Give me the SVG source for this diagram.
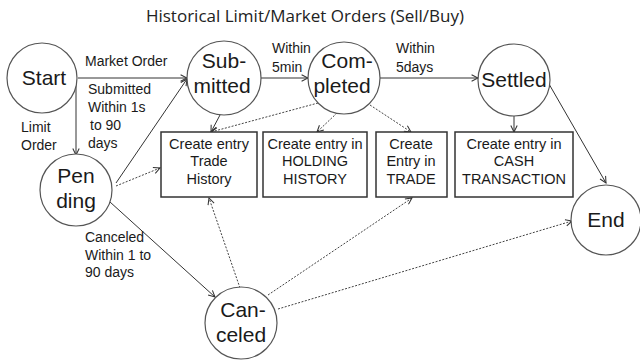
<svg xmlns="http://www.w3.org/2000/svg" width="640" height="360" viewBox="0 0 640 360">
<defs>
<marker id="arr" viewBox="0 0 10 10" refX="9" refY="5" markerWidth="8" markerHeight="8" markerUnits="userSpaceOnUse" orient="auto">
<path d="M1,1 L9,5 L1,9" fill="none" stroke="#333" stroke-width="1.3"/>
</marker>
</defs>
<style>
.node{fill:#fff;stroke:#555;stroke-width:1.2}
.box{fill:#fff;stroke:#333;stroke-width:1.5}
.nt{font-family:"Liberation Sans",Arial,sans-serif;font-size:21px;fill:#1a1a1a;text-anchor:middle}
.bt{font-family:"Liberation Sans",Arial,sans-serif;font-size:14.5px;fill:#1a1a1a;text-anchor:middle}
.lt{font-family:"Liberation Sans",Arial,sans-serif;font-size:14px;fill:#1a1a1a}
.title{font-family:"Open Sans","Liberation Sans",sans-serif;font-size:17px;fill:#222;text-anchor:middle}
.s{fill:none;stroke:#333;stroke-width:1;marker-end:url(#arr)}
.d{fill:none;stroke:#444;stroke-width:1;stroke-dasharray:2 1.5;marker-end:url(#arr)}
</style>
<rect width="640" height="360" fill="#fff"/>
<text class="title" x="305" y="22">Historical Limit/Market Orders (Sell/Buy)</text>

<g id="connectors">
<line class="s" x1="78" y1="78" x2="187" y2="78"/>
<line class="s" x1="76" y1="80" x2="76" y2="155"/>
<line class="s" x1="116" y1="183" x2="187" y2="79"/>
<line class="d" x1="116" y1="186" x2="160" y2="168"/>
<line class="s" x1="110" y1="202" x2="215" y2="297"/>
<line class="s" x1="261" y1="78" x2="308" y2="78"/>
<line class="s" x1="220" y1="115" x2="211" y2="132"/>
<line class="d" x1="318" y1="103" x2="211" y2="132"/>
<line class="d" x1="337" y1="113" x2="317" y2="132"/>
<line class="d" x1="370" y1="105" x2="411" y2="132"/>
<line class="s" x1="380" y1="78" x2="478" y2="78"/>
<line class="s" x1="514" y1="116" x2="514" y2="132"/>
<line class="s" x1="549" y1="84" x2="606" y2="183"/>
<line class="d" x1="240" y1="288" x2="209" y2="198"/>
<line class="d" x1="268" y1="295" x2="412" y2="198"/>
<line class="d" x1="278" y1="309" x2="572" y2="221"/>
</g>

<g id="start"><circle class="node" cx="42" cy="78" r="35"/><text class="nt" x="44" y="85" font-size="22">Start</text></g>
<g id="submitted"><circle class="node" cx="224" cy="78" r="37"/><text class="nt" x="224" y="68">Sub-</text><text class="nt" x="222" y="93">mitted</text></g>
<g id="completed"><circle class="node" cx="344" cy="78" r="36"/><text class="nt" x="347" y="68">Com-</text><text class="nt" x="342" y="93">pleted</text></g>
<g id="settled"><circle class="node" cx="514" cy="80" r="36"/><text class="nt" x="514" y="87">Settled</text></g>
<g id="pending"><circle class="node" cx="76" cy="190" r="36"/><text class="nt" x="76" y="183">Pen</text><text class="nt" x="76" y="208">ding</text></g>
<g id="canceled"><circle class="node" cx="241" cy="323" r="36"/><text class="nt" x="243" y="317">Can-</text><text class="nt" x="241" y="342">celed</text></g>
<g id="end"><circle class="node" cx="606" cy="220" r="35"/><text class="nt" x="606" y="227">End</text></g>

<g id="box1"><rect class="box" x="161" y="132" width="96" height="65"/><text class="bt" x="209" y="149">Create entry</text><text class="bt" x="209" y="166">Trade</text><text class="bt" x="209" y="184">History</text></g>
<g id="box2"><rect class="box" x="263" y="132" width="104" height="65"/><text class="bt" x="315" y="149">Create entry in</text><text class="bt" x="315" y="166">HOLDING</text><text class="bt" x="315" y="184">HISTORY</text></g>
<g id="box3"><rect class="box" x="376" y="132" width="71" height="65"/><text class="bt" x="411" y="149">Create</text><text class="bt" x="411" y="166">Entry in</text><text class="bt" x="411" y="184">TRADE</text></g>
<g id="box4"><rect class="box" x="455" y="132" width="118" height="65"/><text class="bt" x="514" y="149">Create entry in</text><text class="bt" x="514" y="166">CASH</text><text class="bt" x="514" y="184">TRANSACTION</text></g>

<g id="labels">
<text class="lt" x="85" y="66">Market Order</text>
<text class="lt" x="88" y="94">Submitted</text>
<text class="lt" x="88" y="112">Within 1s</text>
<text class="lt" x="90" y="130">to 90</text>
<text class="lt" x="88" y="148">days</text>
<text class="lt" x="21" y="132">Limit</text>
<text class="lt" x="21" y="150">Order</text>
<text class="lt" x="272" y="53">Within</text>
<text class="lt" x="272" y="72">5min</text>
<text class="lt" x="396" y="53">Within</text>
<text class="lt" x="396" y="72">5days</text>
<text class="lt" x="85" y="242">Canceled</text>
<text class="lt" x="85" y="260">Within 1 to</text>
<text class="lt" x="85" y="277">90 days</text>
</g>
</svg>
